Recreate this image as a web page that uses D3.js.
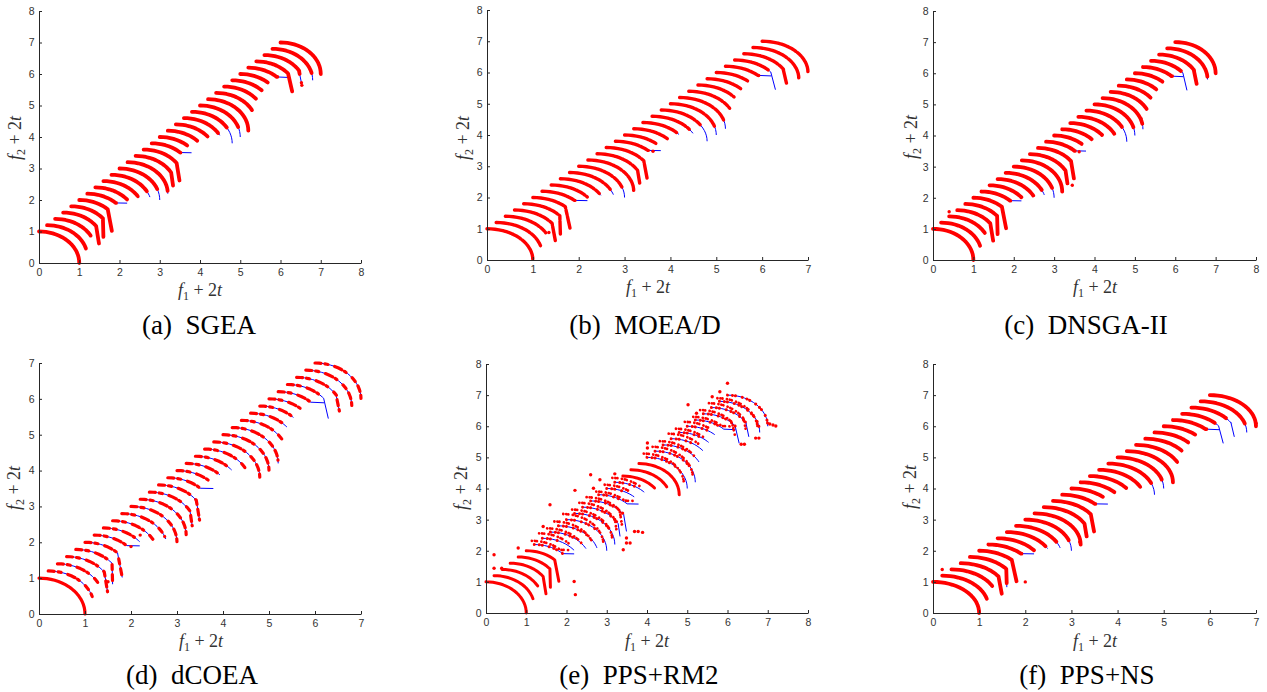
<!DOCTYPE html>
<html><head><meta charset="utf-8">
<script src="https://cdnjs.cloudflare.com/ajax/libs/d3/7.8.5/d3.min.js"></script>
<style>body{margin:0;background:#fff} svg{display:block} text{white-space:pre}</style>
</head><body>
<svg id="chart" width="1267" height="692"></svg>
<script>
// ---------------- data ----------------
const timeSteps = [0,0.1,0.2,0.3,0.4,0.5,0.6,0.7,0.8,0.9,1.0,1.1,1.2,1.3,1.4,1.5,1.6,1.7,1.8,1.9,2.0,2.1,2.2,2.3,2.4,2.5,2.6,2.7,2.8,2.9,3.0];
// quarter-circle front shape read from the t = 0 curve (f1, f2)
const unitArc = [[0,1],[0.087,0.996],[0.174,0.985],[0.259,0.966],[0.342,0.940],[0.423,0.906],[0.5,0.866],[0.574,0.819],[0.643,0.766],[0.707,0.707],[0.766,0.643],[0.819,0.574],[0.866,0.5],[0.906,0.423],[0.940,0.342],[0.966,0.259],[0.985,0.174],[0.996,0.087],[1,0]];
// index of last arc point kept for each time step, and extra end / kink points
const frontCut = [18,15,12,11,10,9,9,10,12,14,18,18,12,11,9,8,9,10,12,18,18,18,12,10,9,8,9,10,12,18,18];
const frontTail = [[],[],[[0.883,0.47]],[[0.89,0.02]],[[0.788,0.616],[0.80,0.03]],[[0.81,0.02]],[[0.99,0.70]],[[0.788,0.616]],[[0.883,0.47]],[[0.956,0.292]],[],[],
  [[0.883,0.47],[0.93,0.06]],[[0.89,0.02]],[[0.99,0.70]],[[0.682,0.731]],[[0.731,0.682]],[[0.788,0.616]],[[0.891,0.454]],[],[],[],
  [[0.891,0.454]],[[0.788,0.616]],[[0.731,0.682]],[[0.682,0.731]],[[1.0,0.69]],[[0.788,0.616],[0.89,0.05]],[[0.857,0.515],[0.93,0.06]],[],[]];

const tickLabels8 = [0,1,2,3,4,5,6,7,8];
const tickLabels7 = [0,1,2,3,4,5,6,7];
const panelLetters = ["(a)","(b)","(c)","(d)","(e)","(f)"];
const algorithms = ["SGEA","MOEA/D","DNSGA-II","dCOEA","PPS+RM2","PPS+NS"];
const xMax = [8,7,8,7,8,7];
const yMax = [8,8,8,7,8,8];

// share of each true front covered by the obtained (red) solutions
const coverSGEA  = [1,1,1,1,1,1,0.735,1,0.95,0.86,0.8,0.95,1,1,0.735,1,1,1,0.93,0.7,0.82,1,1,1,1,1,0.735,1,0.8,0.87,1];
const coverMOEAD = [1,1,1,1,1,1,0.735,1,0.95,0.88,0.82,1,1,1,0.735,1,1,0.93,0.88,0.72,0.85,0.85,1,1,1,1,0.735,0.62,1,1,1];
const coverDNSGA = [1,1,1,1,1,1,0.735,1,1,0.88,0.82,1,1,1,0.735,1,1,1,1,0.72,0.85,0.9,1,1,1,1,0.735,0.61,1,0.95,1];
const coverDCOEA = [1,0.98,1,1,1,1,0.75,0.9,1,0.95,1,1,1,1,0.75,1,1,1,1,1,1,0.95,1,0.9,1,1,0.75,0.62,1,1,1];
const coverPPSRM2 = [1,1,1,1,1,1,0.8,0.5,0.6,0.7,0.6,0.7,0.8,0.7,0.5,0.6,0.7,1,1,1,0.6,0.7,0.7,0.6,0.7,0.7,0.6,0.7,0.8,0.9,1];
const coverPPSNS = [1,1,1,1,0.93,1,0.735,1,0.93,0.86,0.82,1,1,1,0.735,1,1,1,1,0.8,0.85,1,1,1,1,1,0.735,0.6,0.62,0.85,1];
// PPS+RM2: dense (1) or scattered (0) solutions, and offset of the scattered copies
const denseRM2 = [1,1,1,1,1,1,0,0,0,0,0,0,0,0,0,0,0,1,1,1,0,0,0,0,0,0,0,0,0,0,0];
const shiftRM2x = [0,0,0,0,0,0,-0.06,-0.08,-0.08,-0.1,-0.08,-0.06,-0.08,-0.1,-0.06,-0.05,-0.06,0,0,0,-0.08,-0.06,-0.08,-0.06,-0.08,-0.06,-0.05,-0.08,-0.06,-0.05,0];
const shiftRM2y = [0,0,0,0,0,0,0.12,0.16,0.12,0.14,0.18,0.12,0.14,0.12,0.1,0.12,0.14,0,0,0,0.12,0.14,0.12,0.16,0.12,0.14,0.1,0.12,0.14,0.1,0];
// isolated solutions
const outliersSGEA = [[6.52,5.72],[6.53,5.64]];
const outliersMOEAD = [[3.62,3.48],[1.35,0.88]];
const outliersDNSGA = [[0.4,1.55],[3.45,2.4],[5.15,4.55],[3.62,3.48]];
const outliersDCOEA = [[2.0,1.88],[2.2,2.2],[1.5,0.9]];
const outliersPPSRM2 = [[0.2,1.87],[0.2,1.44],[0.39,1.44],[2.19,1.01],[2.22,0.59],[0.8,2.09],[1.59,3.48],[1.42,2.78],[2.21,3.94],[2.6,4.44],[2.83,4.28],[2.67,4.01],[3.2,4.47],[3.78,2.62],[3.89,2.59],[3.69,2.62],[3.49,2.41],[3.49,2.25],[3.58,2.25],[3.41,2.03],[4.01,5.46],[4.01,5.3],[5.02,6.69],[5.23,6.42],[5.62,6.95],[5.81,7.11],[6.0,7.38],[7.2,6.01],[7.13,6.04],[7.05,6.07],[6.34,5.42],[6.42,5.42],[6.78,5.62],[6.7,5.62]];
const outliersPPSNS = [[0.2,1.4],[2.0,1.0],[3.18,2.28],[7.0,6.1]];

// ---------------- layout / style ----------------
const layout = [
 {x0:39, x1:361, yb:263, yt:11, xlx:200, xly:296, ylx:21, yly:138, cx:199, cy:334},
 {x0:487, x1:808, yb:260, yt:10, xlx:648, xly:293, ylx:469, yly:138, cx:645, cy:334},
 {x0:933, x1:1256, yb:260, yt:11, xlx:1095, xly:293, ylx:917, yly:137, cx:1086, cy:334},
 {x0:39, x1:361, yb:614, yt:363, xlx:201, xly:647, ylx:20, yly:488, cx:192, cy:684},
 {x0:486, x1:808, yb:613, yt:364, xlx:647, xly:647, ylx:467, yly:488, cx:639, cy:684},
 {x0:933, x1:1256, yb:613, yt:364, xlx:1095, xly:647, ylx:916, yly:487, cx:1087, cy:684}
];
const covers = [coverSGEA, coverMOEAD, coverDNSGA, coverDCOEA, coverPPSRM2, coverPPSNS];
const outliers = [outliersSGEA, outliersMOEAD, outliersDNSGA, outliersDCOEA, outliersPPSRM2, outliersPPSNS];
const patterns = [null, [16,1.5,7,1.2,10,2,5,1.4], null, [6,4,3,7,8,3,2,8,5,5], [0.01,5,0.01,3,0.01,7], null];
const redWidth = [3.8, 3.4, 3.8, 3.2, 3.0, 3.8];

const RED = "#ff0000", BLUE = "#0000ff", AX = "#262626";
const svg = d3.select("#chart");

const fronts = timeSteps.map((t, k) =>
  unitArc.slice(0, frontCut[k] + 1).concat(frontTail[k]).map(p => [2 * t + p[0], 2 * t + p[1]]));

function dashFor(L, frac, pattern) {
  const cov = L * frac;
  if (!pattern) return frac >= 1 ? null : `${cov} ${L + 20}`;
  const arr = []; let s = 0, i = 0;
  while (s < cov - 0.001) {
    let d = pattern[i % pattern.length];
    if (i % 2 === 0) d = Math.min(d, cov - s);
    arr.push(d); s += d; i++;
  }
  if (arr.length % 2 === 1) arr.push(L + 20); else arr[arr.length - 1] += L + 20;
  return arr.join(" ");
}

function mathLabel(sel, sub) {
  sel.append("tspan").attr("font-style", "italic").text("f");
  sel.append("tspan").attr("font-size", "12px").attr("dy", 4).text(sub);
  sel.append("tspan").attr("dy", -4).text(" + 2");
  sel.append("tspan").attr("font-style", "italic").text("t");
}

layout.forEach((L, i) => {
  const g = svg.append("g");
  const x = d3.scaleLinear().domain([0, xMax[i]]).range([L.x0, L.x1]);
  const y = d3.scaleLinear().domain([0, yMax[i]]).range([L.yb, L.yt]);
  const line = d3.line().x(d => x(d[0])).y(d => y(d[1]));

  // true fronts (blue)
  fronts.forEach(f => {
    g.append("path").attr("d", line(f)).attr("fill", "none")
      .attr("stroke", BLUE).attr("stroke-width", 1);
  });

  // obtained solutions (red)
  const cov = covers[i];
  fronts.forEach((f, k) => {
    if (cov[k] <= 0) return;
    let pat = patterns[i];
    if (i === 3 && k === 0) pat = null;
    if (i === 4 && denseRM2[k] === 1) pat = null;
    const p = g.append("path").attr("d", line(f)).attr("fill", "none")
      .attr("stroke", RED).attr("stroke-width", redWidth[i])
      .attr("stroke-linecap", "round").attr("stroke-linejoin", "round");
    const len = p.node().getTotalLength();
    const da = dashFor(len, cov[k], pat);
    if (da) p.attr("stroke-dasharray", da);
  });

  // scattered copies for PPS+RM2
  if (i === 4) {
    fronts.forEach((f, k) => {
      if (shiftRM2x[k] === 0 && shiftRM2y[k] === 0) return;
      const sh = f.map(q => [q[0] + shiftRM2x[k], q[1] + shiftRM2y[k]]);
      const p = g.append("path").attr("d", line(sh)).attr("fill", "none")
        .attr("stroke", RED).attr("stroke-width", 2.8).attr("stroke-linecap", "round");
      const len = p.node().getTotalLength();
      p.attr("stroke-dasharray", dashFor(len, 0.95, [0.01, 3, 0.01, 2, 0.01, 4.5]));
    });
  }

  g.selectAll("circle.o").data(outliers[i]).join("circle").attr("class", "o")
    .attr("cx", d => x(d[0])).attr("cy", d => y(d[1])).attr("r", 1.7).attr("fill", RED);

  // axes
  const xt = xMax[i] === 8 ? tickLabels8 : tickLabels7;
  const yt = yMax[i] === 8 ? tickLabels8 : tickLabels7;
  const ax = g.append("g").attr("transform", `translate(0,${L.yb})`)
    .call(d3.axisBottom(x).tickValues(xt).tickFormat(d3.format("d")).tickSizeInner(-3).tickSizeOuter(0).tickPadding(6));
  const ay = g.append("g").attr("transform", `translate(${L.x0},0)`)
    .call(d3.axisLeft(y).tickValues(yt).tickFormat(d3.format("d")).tickSizeInner(-3).tickSizeOuter(0).tickPadding(4.5));
  [ax, ay].forEach(a => {
    a.attr("font-family", "'Liberation Sans', Arial, sans-serif").attr("font-size", 10.5);
    a.select(".domain").attr("stroke", AX).attr("stroke-width", 1);
    a.selectAll(".tick line").attr("stroke", AX);
    a.selectAll(".tick text").attr("fill", "#333");
  });

  // axis titles
  const xl = g.append("text").attr("x", L.xlx).attr("y", L.xly).attr("text-anchor", "middle")
    .attr("font-family", "'Liberation Serif', 'Times New Roman', serif").attr("font-size", 18).attr("fill", "#333");
  mathLabel(xl, "1");
  const yl = g.append("text").attr("transform", `translate(${L.ylx},${L.yly}) rotate(-90)`).attr("text-anchor", "middle")
    .attr("font-family", "'Liberation Serif', 'Times New Roman', serif").attr("font-size", 18).attr("fill", "#333");
  mathLabel(yl, "2");

  // caption
  g.append("text").attr("x", L.cx).attr("y", L.cy).attr("text-anchor", "middle")
    .attr("font-family", "'Liberation Serif', 'Times New Roman', serif").attr("font-size", 27).attr("fill", "#000")
    .text(panelLetters[i] + "  " + algorithms[i]);
});
</script>
</body></html>
